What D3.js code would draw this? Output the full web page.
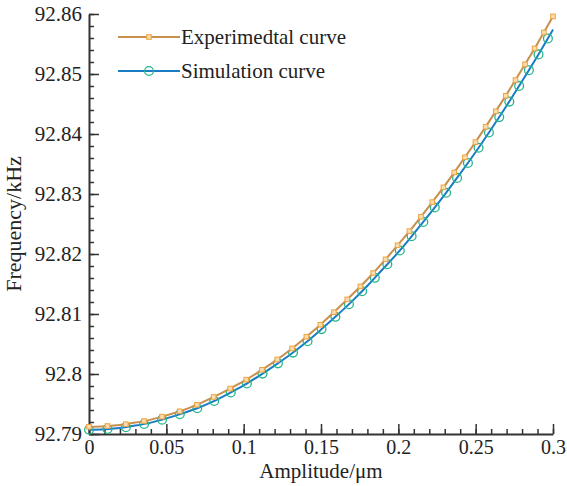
<!DOCTYPE html>
<html>
<head>
<meta charset="utf-8">
<script src="https://cdn.jsdelivr.net/npm/d3@7"></script>
<style>
  body { margin: 0; background: #fff; }
  svg { display: block; }
  text { font-family: "Liberation Serif", "Times New Roman", serif; fill: #222; }
</style>
</head>
<body>
<div id="main"></div>
<script>
// amplitude (um)
var amplitude = [0, 0.01, 0.02, 0.03, 0.04, 0.05, 0.06, 0.07, 0.08, 0.09, 0.1,
  0.11, 0.12, 0.13, 0.14, 0.15, 0.16, 0.17, 0.18, 0.19, 0.2,
  0.21, 0.22, 0.23, 0.24, 0.25, 0.26, 0.27, 0.28, 0.29, 0.3];
// frequency (kHz)
var experimental = [92.7912, 92.7913, 92.7915, 92.7919, 92.7924, 92.7931, 92.7939, 92.7949, 92.7961, 92.7974, 92.7988,
  92.8004, 92.8021, 92.8040, 92.8061, 92.8083, 92.8107, 92.8132, 92.8158, 92.8186, 92.8216,
  92.8247, 92.8280, 92.8314, 92.8350, 92.8387, 92.8426, 92.8466, 92.8508, 92.8551, 92.8596];
var simulation = [92.7907, 92.7908, 92.7910, 92.7914, 92.7919, 92.7926, 92.7934, 92.7943, 92.7954, 92.7967, 92.7981,
  92.7997, 92.8014, 92.8032, 92.8052, 92.8074, 92.8097, 92.8121, 92.8147, 92.8175, 92.8203,
  92.8234, 92.8266, 92.8299, 92.8334, 92.8370, 92.8408, 92.8447, 92.8488, 92.8530, 92.8574];

var xTicks = [0, 0.05, 0.1, 0.15, 0.2, 0.25, 0.3];
var xTickLabels = ["0", "0.05", "0.1", "0.15", "0.2", "0.25", "0.3"];
var yTicks = [92.79, 92.8, 92.81, 92.82, 92.83, 92.84, 92.85, 92.86];
var yTickLabels = ["92.79", "92.8", "92.81", "92.82", "92.83", "92.84", "92.85", "92.86"];
var seriesNames = ["Experimedtal curve", "Simulation curve"];

var width = 567, height = 486;
var margin = { top: 14, right: 14, bottom: 52, left: 89 };
var w = width - margin.left - margin.right;
var h = height - margin.top - margin.bottom;

var svg = d3.select("#main").append("svg")
    .attr("width", width)
    .attr("height", height);
var g = svg.append("g")
    .attr("transform", "translate(" + margin.left + "," + margin.top + ")");

var x = d3.scaleLinear().domain([0, 0.3]).range([0, w]);
var y = d3.scaleLinear().domain([92.79, 92.86]).range([h, 0]);

// minor ticks
var xMinor = d3.range(0, 31).map(function (i) { return i * 0.01; });
var yMinor = d3.range(0, 36).map(function (i) { return 92.79 + i * 0.002; });

g.append("g").attr("class", "xminor")
    .attr("transform", "translate(0," + h + ")")
    .call(d3.axisBottom(x).tickValues(xMinor).tickSize(-5).tickFormat(""));
g.append("g").attr("class", "yminor")
    .call(d3.axisLeft(y).tickValues(yMinor).tickSize(-5).tickFormat(""));

var xAxis = g.append("g").attr("class", "xaxis")
    .attr("transform", "translate(0," + h + ")")
    .call(d3.axisBottom(x).tickValues(xTicks).tickSizeInner(-10).tickSizeOuter(0).tickPadding(7)
        .tickFormat(function (d, i) { return xTickLabels[i]; }));
var yAxis = g.append("g").attr("class", "yaxis")
    .call(d3.axisLeft(y).tickValues(yTicks).tickSizeInner(-10).tickSizeOuter(0).tickPadding(7)
        .tickFormat(function (d, i) { return yTickLabels[i]; }));

g.selectAll(".xminor .domain, .yminor .domain").remove();
g.selectAll(".tick line").attr("stroke", "#333").attr("stroke-width", 1.5);
g.selectAll(".domain").attr("stroke", "#333").attr("stroke-width", 2);
g.selectAll(".xaxis text, .yaxis text")
    .attr("font-size", 21)
    .attr("fill", "#222");
xAxis.selectAll("text").attr("font-size", 20).attr("dy", "0.65em");
yAxis.selectAll("text").attr("dy", "0.33em");

// axis titles
svg.append("text")
    .attr("x", margin.left + w / 2)
    .attr("y", 478)
    .attr("text-anchor", "middle")
    .attr("font-size", 21)
    .text("Amplitude/\u03bcm");
svg.append("text")
    .attr("transform", "translate(21," + (margin.top + h / 2) + ") rotate(-90)")
    .attr("text-anchor", "middle")
    .attr("font-size", 22)
    .text("Frequency/kHz");

var lineColors = ["#c98f4c", "#1a7cc4"];
var markColors = ["#eea23c", "#22b58c"];
var series = [experimental, simulation];

var line = d3.line()
    .x(function (d) { return x(d[0]); })
    .y(function (d) { return y(d[1]); })
    .curve(d3.curveMonotoneX);

var spacing = 18.5;

function drawMarker(sel, k, px, py) {
    if (k == 0) {
        sel.append("rect")
            .attr("x", px - 2.3).attr("y", py - 2.3)
            .attr("width", 4.6).attr("height", 4.6)
            .attr("fill", "#f9dcb0")
            .attr("stroke", markColors[k])
            .attr("stroke-width", 1);
    } else {
        sel.append("circle")
            .attr("cx", px).attr("cy", py).attr("r", 4.4)
            .attr("fill", "none")
            .attr("stroke", markColors[k])
            .attr("stroke-width", 1.3);
    }
}

// draw simulation first, experimental on top
[1, 0].forEach(function (k) {
    var pts = amplitude.map(function (a, i) { return [a, series[k][i]]; });
    var path = g.append("path")
        .datum(pts)
        .attr("d", line)
        .attr("fill", "none")
        .attr("stroke", lineColors[k])
        .attr("stroke-width", 2);
    var node = path.node();
    var L = node.getTotalLength();
    var step = k == 0 ? L / Math.round(L / spacing) : spacing;
    var mg = g.append("g");
    for (var s = 0; s <= L + 0.5; s += step) {
        var p = node.getPointAtLength(Math.min(s, L));
        drawMarker(mg, k, p.x, p.y);
    }
});

// legend
var legend = svg.append("g");
[0, 1].forEach(function (k) {
    var ly = 37 + k * 34;
    legend.append("line")
        .attr("x1", 118).attr("x2", 180)
        .attr("y1", ly).attr("y2", ly)
        .attr("stroke", lineColors[k])
        .attr("stroke-width", 2);
    drawMarker(legend, k, 149, ly);
    legend.append("text")
        .attr("x", 181)
        .attr("y", ly)
        .attr("dy", "0.33em")
        .attr("font-size", 21)
        .text(seriesNames[k]);
});
</script>
</body>
</html>
